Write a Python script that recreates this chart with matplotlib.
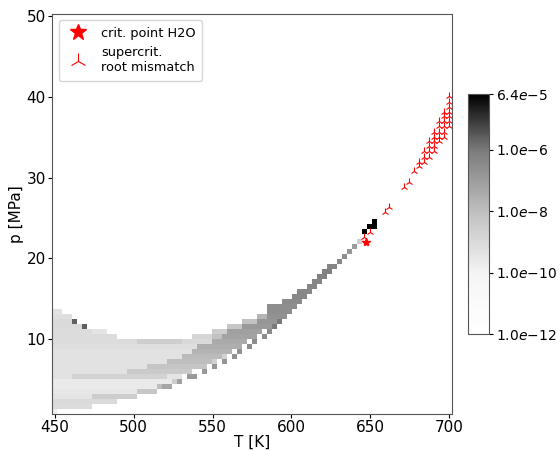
import numpy as np
import matplotlib
matplotlib.use("Agg")
import matplotlib.pyplot as plt
from matplotlib.colors import LogNorm, LinearSegmentedColormap

# grid of the map (cell centres)
T_min, T_max, n_T = 450.0, 700.0, 80
p_min, p_max, n_p = 1.0, 50.0, 80

# mismatch map:
# row index (pressure) -> list of (first T cell, last T cell, log10 value)
rows = {
    0: [(0, 0, -9.8)],
    1: [(0, 7, -9.1)],
    2: [(0, 12, -9.0)],
    3: [(0, 7, -9.4), (8, 16, -8.5)],
    4: [(0, 16, -9.5), (17, 20, -8.3)],
    5: [(0, 20, -9.6), (21, 21, -8.0), (22, 23, -7.3)],
    6: [(0, 23, -9.6), (24, 24, -8.5), (25, 25, -7.1)],
    7: [(0, 3, -9.3), (4, 22, -8.7), (23, 25, -9.4), (27, 28, -6.9)],
    8: [(0, 14, -9.3), (15, 27, -8.4), (30, 30, -6.9)],
    9: [(0, 18, -9.3), (19, 30, -8.2), (32, 32, -6.8)],
    10: [(0, 22, -9.3), (23, 31, -8.0), (32, 32, -8.7), (34, 34, -6.8)],
    11: [(0, 25, -9.3), (26, 33, -7.9), (34, 34, -8.7), (36, 36, -6.7)],
    12: [(0, 27, -9.3), (28, 35, -7.7), (37, 37, -6.7)],
    13: [(0, 28, -9.2), (29, 37, -7.5), (39, 39, -6.6)],
    14: [(0, 16, -9.1), (17, 25, -8.5), (26, 31, -9.0), (32, 38, -7.4), (40, 40, -6.6)],
    15: [(0, 12, -9.1), (28, 31, -8.8), (32, 33, -8.1), (34, 40, -7.2), (42, 42, -6.5)],
    16: [(0, 7, -9.1), (8, 10, -9.4), (32, 34, -8.5), (35, 41, -7.1), (43, 43, -6.5)],
    17: [(0, 5, -9.0), (6, 6, -5.6), (35, 37, -8.3), (38, 43, -6.9), (44, 44, -6.0)],
    18: [(0, 3, -9.0), (4, 4, -5.6), (38, 40, -8.1), (41, 44, -6.8), (45, 45, -6.0)],
    19: [(0, 3, -9.2), (41, 42, -7.7), (43, 46, -6.7)],
    20: [(0, 1, -9.3), (43, 47, -6.6)],
    21: [(43, 48, -6.6)],
    22: [(46, 49, -6.5)],
    23: [(48, 50, -6.4)],
    24: [(49, 51, -6.4)],
    25: [(51, 52, -6.3)],
    26: [(52, 53, -6.3)],
    27: [(53, 54, -6.2)],
    28: [(54, 55, -6.2)],
    29: [(55, 56, -6.3)],
    30: [(57, 57, -6.4)],
    31: [(58, 58, -6.6)],
    32: [(59, 59, -6.8)],
    33: [(60, 60, -7.0)],
    34: [(61, 61, -8.6)],
    36: [(62, 62, -4.2)],
    37: [(63, 64, -4.2)],
    38: [(64, 64, -4.2)],
}

# critical point of water
T_crit, p_crit = 647.096, 22.064

# supercritical cells where the roots do not match
T_super = [646.2, 649.4, 658.9, 662.0, 671.5, 674.7, 677.8, 681.0, 681.0,
           684.2, 684.2, 684.2, 687.3, 687.3, 687.3, 687.3,
           690.5, 690.5, 690.5, 690.5, 690.5,
           693.7, 693.7, 693.7, 693.7, 693.7,
           696.8, 696.8, 696.8, 696.8, 696.8, 696.8,
           700.0, 700.0, 700.0, 700.0, 700.0, 700.0, 700.0]
p_super = [22.7, 23.3, 25.8, 26.4, 28.9, 29.5, 30.8, 31.4, 32.0,
           32.0, 32.6, 33.3, 32.6, 33.3, 33.9, 34.5,
           33.3, 33.9, 34.5, 35.1, 35.7,
           34.5, 35.1, 35.7, 36.4, 37.0,
           35.1, 35.7, 36.4, 37.0, 37.6, 38.2,
           36.4, 37.0, 37.6, 38.2, 38.8, 39.4, 40.1]

cbar_ticks = [1e-12, 1e-10, 1e-8, 1e-6, 6.4e-5]
cbar_labels = [r'$1.0e{-12}$', r'$1.0e{-10}$', r'$1.0e{-8}$', r'$1.0e{-6}$', r'$6.4e{-5}$']


def main():
    T = np.linspace(T_min, T_max, n_T)
    p = np.linspace(p_min, p_max, n_p)
    Z = np.full((n_p, n_T), np.nan)
    for j, segs in rows.items():
        for i0, i1, lv in segs:
            Z[j, i0:i1 + 1] = 10.0 ** lv
    Z = np.ma.masked_invalid(Z)

    cmap = LinearSegmentedColormap.from_list(
        'grey_map', [(0.0, '#ffffff'), (0.25, '#f5f5f5'), (0.5, '#c2c2c2'),
                     (0.77, '#7a7a7a'), (1.0, '#000000')])
    norm = LogNorm(vmin=1e-12, vmax=6.4e-5)

    fig = plt.figure(figsize=(5.6, 4.51), dpi=100)
    ax = fig.add_axes([0.093, 0.082, 0.714, 0.887])
    cax = fig.add_axes([0.836, 0.259, 0.0375, 0.532])

    mesh = ax.pcolormesh(T, p, Z, cmap=cmap, norm=norm, shading='nearest')
    ax.plot(T_crit, p_crit, '*', color='red', ms=6, ls='none', label='crit. point H2O')
    ax.plot(T_super, p_super, '2', color='red', ms=6, mew=0.8, ls='none',
            label='supercrit.\nroot mismatch')

    ax.set_xticks([450, 500, 550, 600, 650, 700])
    ax.set_yticks([10, 20, 30, 40, 50])
    ax.tick_params(labelsize=11, pad=1.5, length=3)
    ax.set_xlabel('T [K]', fontsize=11, labelpad=0)
    ax.set_ylabel('p [MPa]', fontsize=11, labelpad=2)
    for s in ax.spines.values():
        s.set_color('#555555')
    ax.legend(loc='upper left', fontsize=9.3, markerscale=2, handletextpad=0.8,
              borderpad=0.5)

    cb = fig.colorbar(mesh, cax=cax)
    cb.set_ticks(cbar_ticks)
    cb.set_ticklabels(cbar_labels)
    cb.ax.minorticks_off()
    cb.ax.tick_params(labelsize=10, pad=2, length=3)
    cb.outline.set_edgecolor('#555555')

    fig.savefig('out.png', dpi=100)


if __name__ == "__main__":
    main()
